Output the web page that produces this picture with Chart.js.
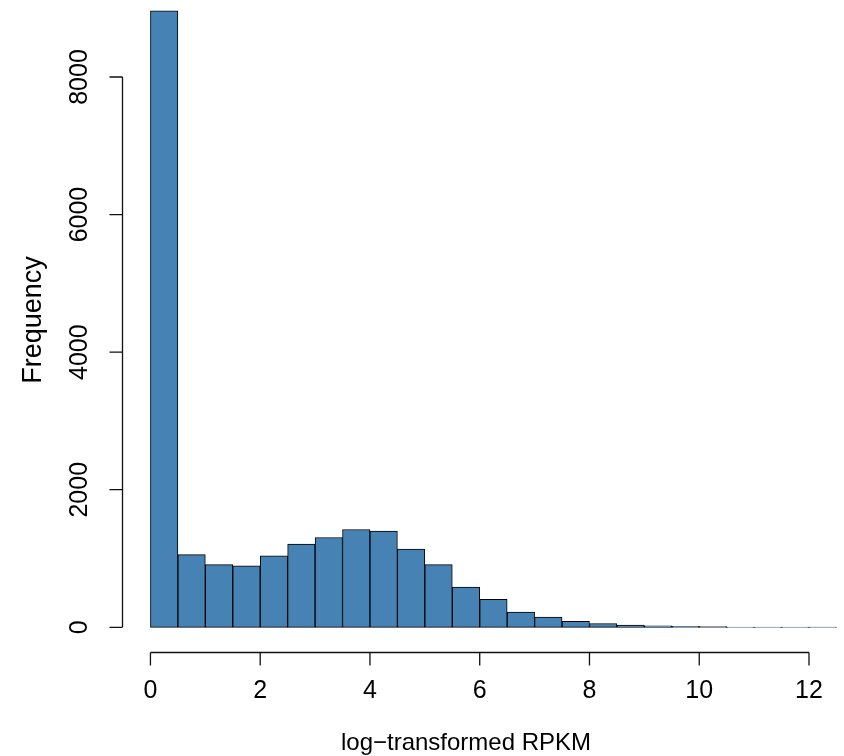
<!DOCTYPE html>
<html>
<head>
<meta charset="utf-8">
<script src="https://cdn.jsdelivr.net/npm/chart.js@4"></script>
<style>
  body { margin: 0; background: #fff; }
  #histo { display: block; }
</style>
</head>
<body>
<canvas id="histo" width="844" height="756"></canvas>
<script>
// histogram bins (left edges, width 0.5) and counts
const binStart = [0, 0.5, 1, 1.5, 2, 2.5, 3, 3.5, 4, 4.5, 5, 5.5, 6, 6.5, 7, 7.5, 8, 8.5, 9, 9.5, 10, 10.5, 11, 11.5, 12];
const binWidth = 0.5;
const counts = [8960, 1057, 912, 893, 1039, 1209, 1305, 1422, 1398, 1136, 912, 583, 408, 223, 150, 87, 55, 31, 21, 14, 10, 5, 4, 3, 2];

// axis ticks
const xTicks = [0, 2, 4, 6, 8, 10, 12];
const yTicks = [0, 2000, 4000, 6000, 8000];

const xTitle = 'log\u2212transformed RPKM';
const yTitle = 'Frequency';

const FONT = '"Liberation Sans", Arial, Helvetica, sans-serif';

// R style axes: detached lines from first to last tick
const rAxes = {
  id: 'rAxes',
  afterDraw(chart) {
    const ctx = chart.ctx;
    const area = chart.chartArea;
    const xs = chart.scales.x;
    const ys = chart.scales.y;
    ctx.save();
    ctx.strokeStyle = '#111';
    ctx.lineWidth = 1.3;
    ctx.fillStyle = '#000';

    // x axis
    const xa = xs.getPixelForValue(xTicks[0]);
    const xb = xs.getPixelForValue(xTicks[xTicks.length - 1]);
    const yAx = area.bottom + 0.5;
    ctx.beginPath();
    ctx.moveTo(xa, yAx);
    ctx.lineTo(xb, yAx);
    xTicks.forEach(v => {
      const px = xs.getPixelForValue(v);
      ctx.moveTo(px, yAx);
      ctx.lineTo(px, yAx + 13);
    });
    ctx.stroke();

    ctx.font = '25px ' + FONT;
    ctx.textAlign = 'center';
    ctx.textBaseline = 'alphabetic';
    xTicks.forEach(v => {
      ctx.fillText(String(v), xs.getPixelForValue(v), 698);
    });

    // y axis
    const ya = ys.getPixelForValue(yTicks[0]);
    const yb = ys.getPixelForValue(yTicks[yTicks.length - 1]);
    const xAx = area.left - 0.5;
    ctx.beginPath();
    ctx.moveTo(xAx, ya);
    ctx.lineTo(xAx, yb);
    yTicks.forEach(v => {
      const py = ys.getPixelForValue(v);
      ctx.moveTo(xAx, py);
      ctx.lineTo(xAx - 13, py);
    });
    ctx.stroke();

    ctx.font = '25px ' + FONT;
    yTicks.forEach(v => {
      ctx.save();
      ctx.translate(87, ys.getPixelForValue(v));
      ctx.rotate(-Math.PI / 2);
      ctx.fillText(String(v), 0, 0);
      ctx.restore();
    });

    // titles
    ctx.font = '24px ' + FONT;
    ctx.fillText(xTitle, (area.left + area.right) / 2, 750);

    ctx.font = '27px ' + FONT;
    ctx.save();
    ctx.translate(41, 320);
    ctx.rotate(-Math.PI / 2);
    ctx.fillText(yTitle, 0, 0);
    ctx.restore();

    ctx.restore();
  }
};

const points = binStart.map((s, i) => ({ x: s + binWidth / 2, y: counts[i] }));

const chart = new Chart(document.getElementById('histo'), {
  type: 'bar',
  data: {
    datasets: [{
      label: 'Frequency',
      data: points,
      backgroundColor: '#4682B4',
      borderColor: '#000',
      borderWidth: 1,
      borderSkipped: false,
      barPercentage: 1,
      categoryPercentage: 1,
      clip: false
    }]
  },
  options: {
    responsive: false,
    animation: false,
    layout: { padding: { left: 0, right: 35, top: 0, bottom: 0 } },
    plugins: {
      legend: { display: false },
      tooltip: { enabled: false }
    },
    scales: {
      x: {
        type: 'linear',
        offset: false,
        min: -0.5,
        max: 12,
        afterBuildTicks: s => { s.ticks = xTicks.map(v => ({ value: v })); },
        afterFit: s => { s.height = 104; },
        ticks: { display: false },
        grid: { display: false },
        border: { display: false }
      },
      y: {
        min: -359,
        max: 9119,
        afterBuildTicks: s => { s.ticks = yTicks.map(v => ({ value: v })); },
        afterFit: s => { s.width = 123; },
        ticks: { display: false },
        grid: { display: false },
        border: { display: false }
      }
    }
  },
  plugins: [rAxes]
});
</script>
</body>
</html>
